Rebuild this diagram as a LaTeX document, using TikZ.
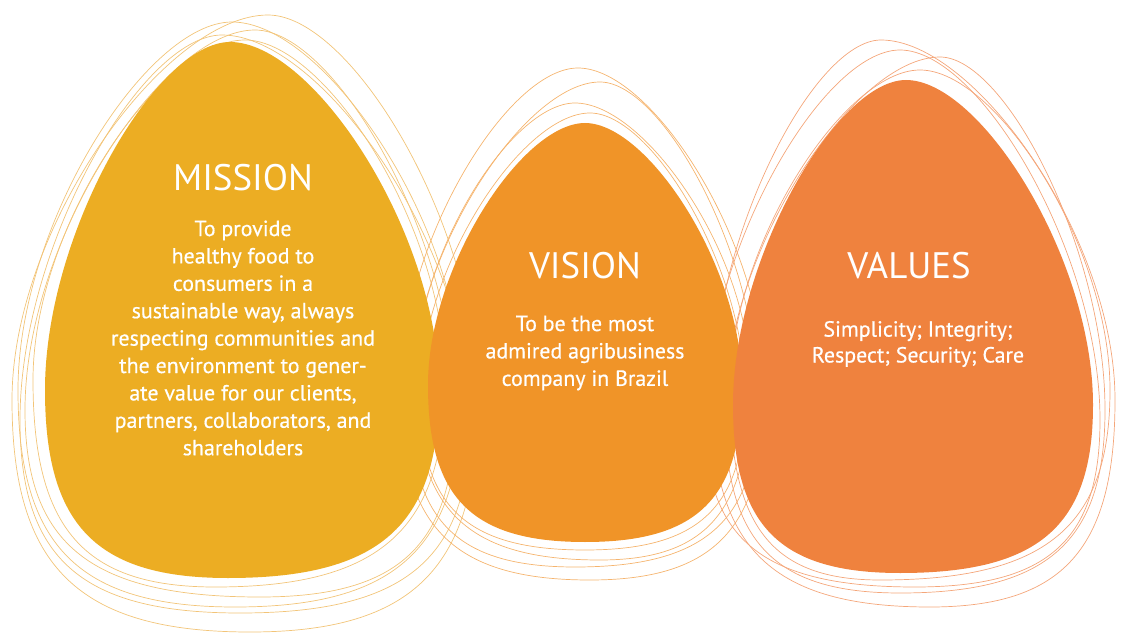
\documentclass[tikz,border=0pt]{standalone}
\usepackage{fontspec}
\setmainfont{PT Sans}
\newfontfamily\eggbodyfont{PT Sans}[FakeBold=0.5]

\definecolor{missionfill}{RGB}{236,173,35}
\definecolor{visionfill}{RGB}{240,148,40}
\definecolor{valuesfill}{RGB}{239,130,62}
\definecolor{missionline}{RGB}{242,196,120}
\definecolor{visionline}{RGB}{245,180,110}
\definecolor{valuesline}{RGB}{244,166,122}

% handle factors of the egg curves: top, sides, bottom
\newcommand{\eggkt}{0.4}
\newcommand{\eggks}{0.45}
\newcommand{\eggkb}{0.72}
% egg outline: #1 top x, #2 top y, #3 left x, #4 right x, #5 widest y, #6 bottom x, #7 bottom y
\newcommand{\eggpath}[7]{%
  (#1,#2) .. controls ({#1+\eggkt*(#4-#1)},#2) and (#4,{#5-\eggks*(#5-#2)}) .. (#4,#5)
  .. controls (#4,{#5+\eggkb*(#7-#5)}) and ({#6+\eggkb*(#4-#6)},#7) .. (#6,#7)
  .. controls ({#6-\eggkb*(#6-#3)},#7) and (#3,{#5+\eggkb*(#7-#5)}) .. (#3,#5)
  .. controls (#3,{#5-\eggks*(#5-#2)}) and ({#1-\eggkt*(#1-#3)},#2) .. (#1,#2) -- cycle}

\tikzset{
  sketch/.style={draw=#1, line width=0.7bp},
  title/.style={text=white, font=\fontsize{37}{40}\selectfont},
  body/.style={text=white, align=center, font=\eggbodyfont\fontsize{22}{27.5}\selectfont},
}

\begin{document}
\begin{tikzpicture}[x=1bp, y=-1bp]
\useasboundingbox (0,0) rectangle (1121,633);

% loose hand-drawn rings around each egg
\draw[sketch=missionline] \eggpath{268}{15}{12}{478}{400}{250}{632};
\draw[sketch=missionline] \eggpath{232}{22}{18}{462}{390}{235}{607};
\draw[sketch=missionline] \eggpath{255}{30}{25}{455}{410}{260}{597};
\draw[sketch=missionline] \eggpath{245}{40}{33}{445}{380}{215}{587};
\draw[sketch=missionline] \eggpath{222}{35}{20}{470}{420}{240}{613};

\draw[sketch=visionline] \eggpath{578}{68}{400}{765}{390}{590}{580};
\draw[sketch=visionline] \eggpath{600}{82}{410}{758}{400}{575}{567};
\draw[sketch=visionline] \eggpath{575}{103}{415}{750}{380}{600}{560};
\draw[sketch=visionline] \eggpath{590}{113}{420}{745}{395}{585}{550};

\draw[sketch=valuesline] \eggpath{881}{40}{712}{1115}{400}{930}{607};
\draw[sketch=valuesline] \eggpath{940}{57}{725}{1105}{410}{900}{593};
\draw[sketch=valuesline] \eggpath{900}{50}{705}{1100}{420}{915}{587};
\draw[sketch=valuesline] \eggpath{920}{70}{730}{1110}{390}{880}{580};

% the three eggs
\fill[missionfill] \eggpath{230}{42}{45}{439}{390}{228}{578};
\fill[visionfill] \eggpath{585}{123}{428}{742}{385}{585}{542};
\fill[valuesfill] \eggpath{906}{80}{733}{1093}{405}{900}{573};

% texts
\node[title] (missiontitle) at (243,178) {MISSION};
\node[body] (missiontext) at (243,338) {To provide\\healthy food to\\consumers in a\\sustainable way, always\\respecting communities and\\the environment to gener-\\ate value for our clients,\\partners, collaborators, and\\shareholders};

\node[title] (visiontitle) at (585,266) {VISION};
\node[body] (visiontext) at (585,353) {To be the most\\admired agribusiness\\company in Brazil};

\node[title] (valuestitle) at (909,266) {VALUES};
\node[body, font=\eggbodyfont\fontsize{22}{26}\selectfont] (valuestext) at (918,344) {Simplicity; Integrity;\\Respect; Security; Care};
\end{tikzpicture}
\end{document}
